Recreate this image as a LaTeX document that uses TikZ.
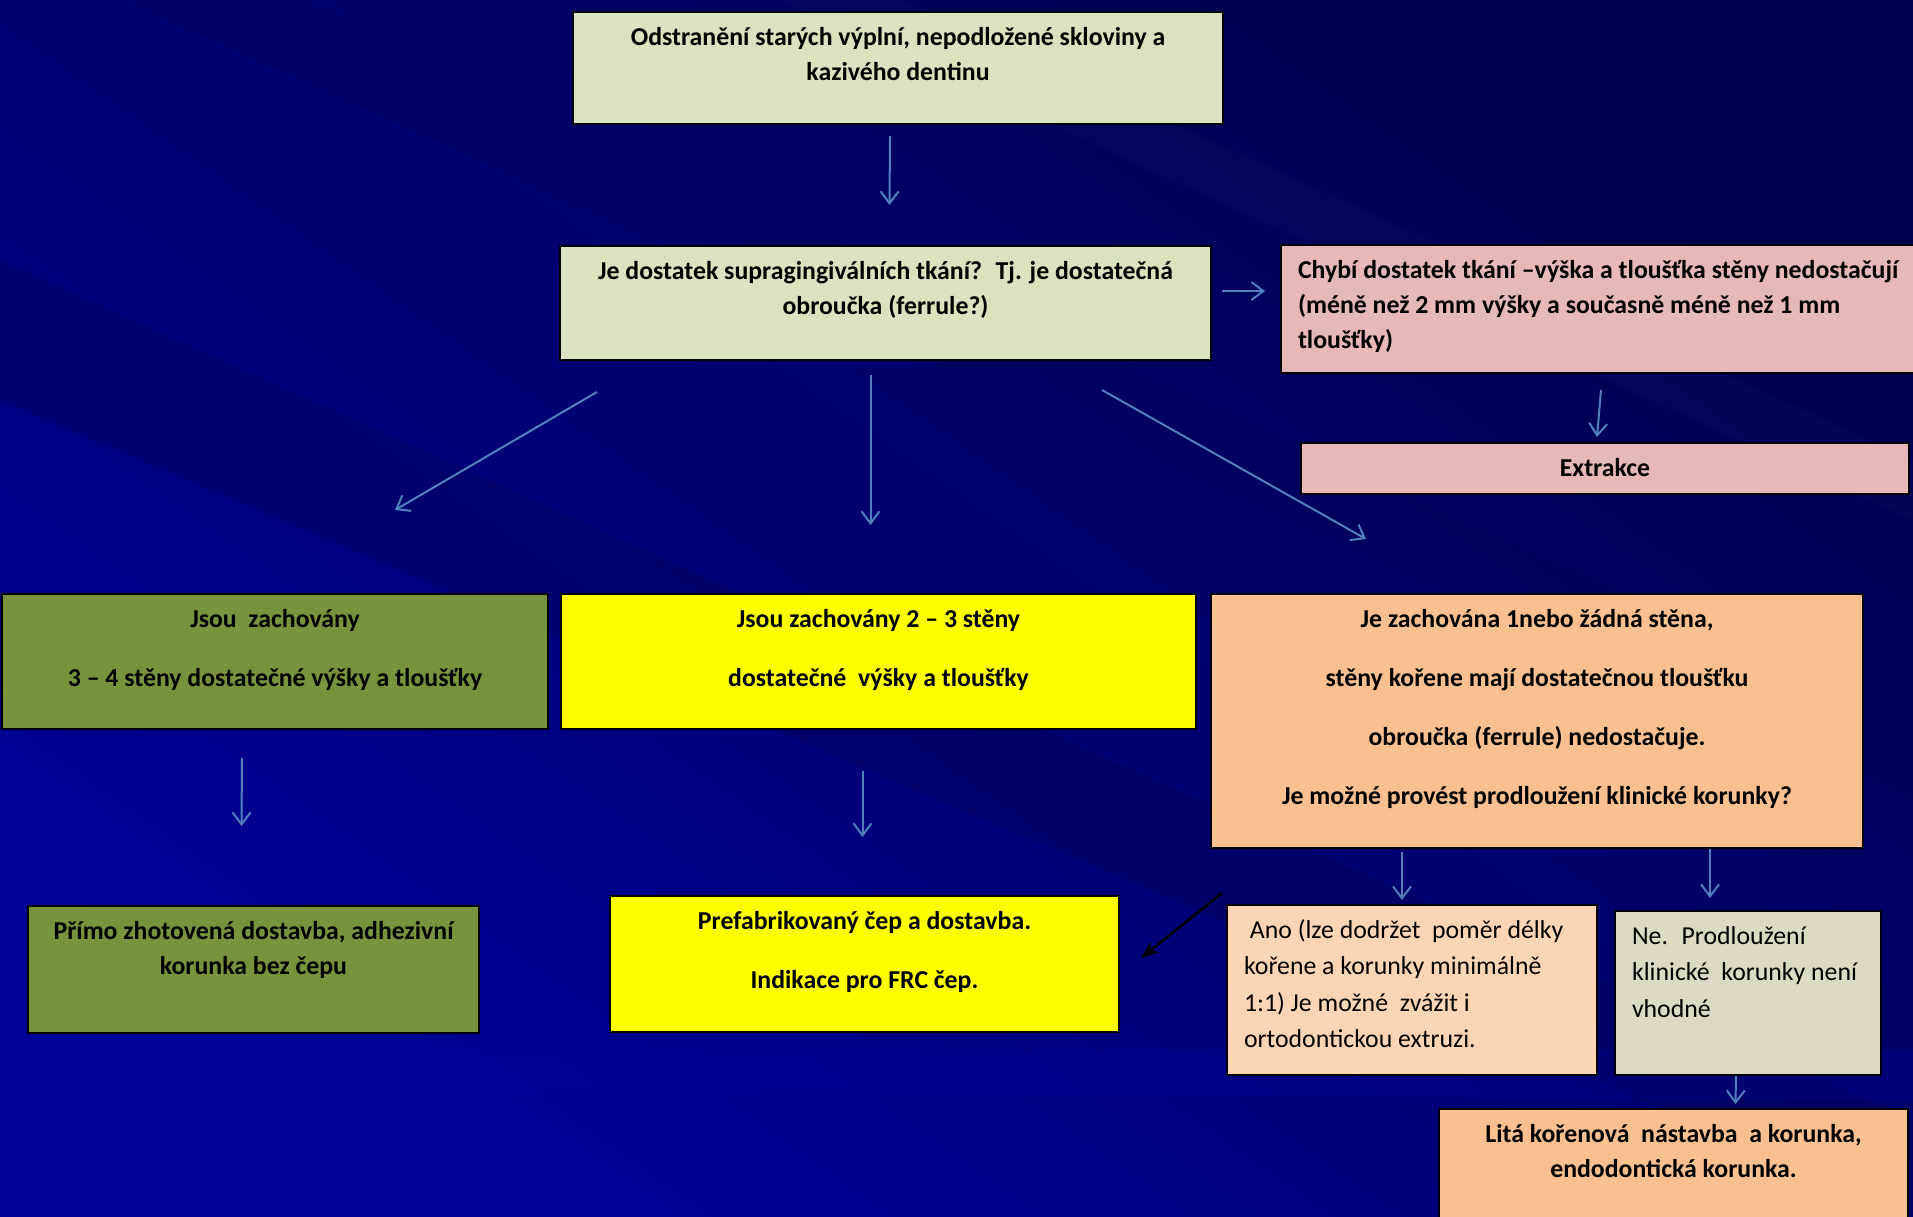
\documentclass[tikz,border=0pt]{standalone}
\usepackage{fontspec}
\setmainfont{Carlito}
\usetikzlibrary{arrows.meta,calc}

\definecolor{bgdark}{HTML}{00004E}
\definecolor{bglight}{HTML}{000096}
\definecolor{arrblue}{HTML}{4F81BD}
\definecolor{palegreen}{HTML}{D7E4BD}
\definecolor{palepink}{HTML}{E6B9B8}
\definecolor{olivegreen}{HTML}{77933C}
\definecolor{brightyellow}{HTML}{FFFF00}
\definecolor{peach}{HTML}{FAC090}
\definecolor{lightpeach}{HTML}{FCD5B5}
\definecolor{greige}{HTML}{DDD9C3}

% text block of a card: width, height, lines
\newcommand{\cardc}[3]{\parbox[c][#2pt][t]{#1pt}{\centering\rule{0pt}{33pt}#3}}
\newcommand{\cardl}[3]{\parbox[c][#2pt][t]{#1pt}{\raggedright\leftskip=17pt\rule{0pt}{33pt}#3}}

\begin{document}
\begin{tikzpicture}[x=1pt,y=-1pt,
    card/.style={draw=black, line width=2pt, inner sep=0pt, anchor=north west,
      font=\fontsize{25.8}{35}\selectfont\bfseries},
    wide/.style={font=\fontsize{25.8}{59}\selectfont\bfseries},
    plain/.style={font=\fontsize{25.8}{36.5}\selectfont},
    arr/.style={draw=arrblue, line width=2pt, -{Straight Barb[length=12pt,width=18pt,line width=2pt]}},
    blackarr/.style={draw=black, line width=2.5pt, -{Stealth[length=18pt,width=14pt]}}]
  \useasboundingbox (0,0) rectangle (1913,1216);

  % background
  \shade[top color=bgdark, bottom color=bglight, shading angle=-35] (0,0) rectangle (1913,1216);
  \fill[bgdark, opacity=0.3] (0,260) -- (1913,1120) -- (1913,1216) -- (0,400) -- cycle;
  \fill[bgdark, opacity=0.2] (300,0) -- (1913,720) -- (1913,800) -- (120,0) -- cycle;
  \fill[bglight, opacity=0.3] (0,1050) -- (1913,1050) -- (1913,1100) -- (0,1090) -- cycle;
  \fill[white, opacity=0.02] (900,0) -- (1913,460) -- (1913,520) -- (780,0) -- cycle;

  % first row
  \node[card, fill=palegreen] (top) at (572,11)
    {\cardc{650}{112}{Odstranění starých výplní, nepodložené skloviny a\\kazivého dentinu}};
  \node[card, fill=palegreen] (q) at (559,245)
    {\cardc{651}{114}{Je dostatek supragingiválních tkání?~ Tj. je dostatečná\\obroučka (ferrule?)}};
  \node[card, fill=palepink] (chybi) at (1280,244)
    {\cardl{640}{128}{Chybí dostatek tkání –výška a tloušťka stěny nedostačují\\(méně než 2 mm výšky a současně méně než 1 mm\\tloušťky)}};
  \node[card, fill=palepink] (extr) at (1300,442)
    {\cardc{608}{51}{Extrakce}};

  % second row
  \node[card, wide, fill=olivegreen] (green) at (1,593)
    {\cardc{546}{135}{Jsou~ zachovány\\3 – 4 stěny dostatečné výšky a tloušťky}};
  \node[card, wide, fill=brightyellow] (yellow) at (560,593)
    {\cardc{635}{135}{Jsou zachovány 2 – 3 stěny\\dostatečné~ výšky a tloušťky}};
  \node[card, wide, fill=peach] (orange) at (1210,593)
    {\cardc{652}{254}{Je zachována 1nebo žádná stěna,\\stěny kořene mají dostatečnou tloušťku\\obroučka (ferrule) nedostačuje.\\Je možné provést prodloužení klinické korunky?}};

  % third row
  \node[card, fill=olivegreen] (greenb) at (27,905)
    {\cardc{451}{127}{Přímo zhotovená dostavba, adhezivní\\korunka bez čepu}};
  \node[card, wide, fill=brightyellow] (yellowb) at (609,895)
    {\cardc{509}{136}{Prefabrikovaný čep a dostavba.\\Indikace pro FRC čep.}};
  \node[card, plain, fill=lightpeach] (ano) at (1226,904)
    {\cardl{370}{170}{~Ano (lze dodržet~ poměr délky\\kořene a korunky minimálně\\1:1) Je možné~ zvážit i\\ortodontickou extruzi.}};
  \node[card, plain, fill=greige] (ne) at (1614,910)
    {\cardl{266}{164}{Ne.~ Prodloužení\\klinické~ korunky není\\vhodné}};
  \node[card, fill=peach] (lita) at (1438,1108)
    {\cardc{469}{130}{Litá kořenová~ nástavba~ a korunka,\\endodontická korunka.}};

  % connectors
  \draw[arr] ($(top.south)+(-8,11)$) -- ($(q.north)+(4,-40)$);
  \draw[arr] ($(q.east)+(10,-12)$) -- ($(chybi.west)+(-15,-18)$);
  \draw[arr] ($(chybi.south)+(0,16)$) -- ($(extr.north)+(-8,-5)$);
  \draw[arr] ($(q.south west)+(38,31)$) -- ($(green.north)+(120,-83)$);
  \draw[arr] ($(q.south)+(-15,14)$) -- ($(yellow.north)+(-8,-68)$);
  \draw[arr] ($(q.south east)+(-110,29)$) -- ($(orange.north)+(-171,-54)$);
  \draw[arr] ($(green.south)+(-33,28)$) -- ($(greenb.north)+(-12,-79)$);
  \draw[arr] ($(yellow.south)+(-16,41)$) -- ($(yellowb.north)+(-2,-58)$);
  \draw[arr] ($(orange.south)+(-135,3)$) -- ($(ano.north)+(-10,-4)$);
  \draw[arr] ($(orange.south)+(173,0)$) -- ($(ne.north)+(-38,-12)$);
  \draw[arr] ($(ne.south)+(-12,0)$) -- ($(lita.north)+(62,-4)$);
  \draw[blackarr] ($(ano.north west)+(-4,-11)$) -- ($(yellowb.east)+(21,-6)$);
\end{tikzpicture}
\end{document}
